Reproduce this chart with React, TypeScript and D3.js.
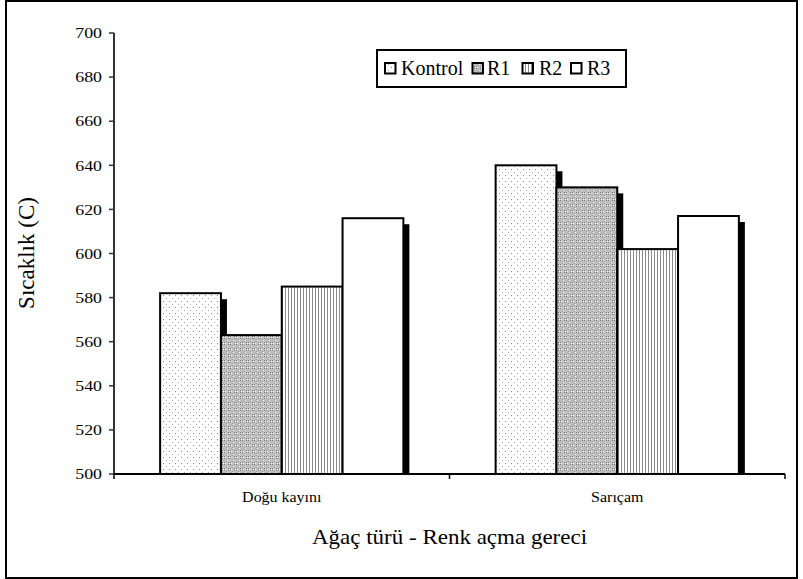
import React from "react";
import * as d3 from "d3";

// Chart data
const categories = ["Doğu kayını", "Sarıçam"];
const seriesNames = ["Kontrol", "R1", "R2", "R3"];
const kontrolValues = [582, 640];
const r1Values = [563, 630];
const r2Values = [585, 602];
const r3Values = [616, 617];
const yTicks = [500, 520, 540, 560, 580, 600, 620, 640, 660, 680, 700];

const seriesValues = [kontrolValues, r1Values, r2Values, r3Values];
const fills = ["url(#patDots)", "url(#patChecker)", "url(#patStripes)", "#ffffff"];

const W = 803;
const H = 579;
const margin = { left: 114, right: 18, top: 33, bottom: 105 };
const textStyle = { fontFamily: "Liberation Serif" };

// Text drawn with a horizontal stretch factor
function WideText(props: {
  x: number;
  y: number;
  sx: number;
  size: number;
  anchor?: "start" | "middle" | "end";
  dy?: string;
  children: React.ReactNode;
}) {
  const { x, y, sx, size, anchor = "start", dy, children } = props;
  return (
    <text
      transform={`translate(${x},${y}) scale(${sx},1)`}
      textAnchor={anchor}
      dy={dy}
      style={textStyle}
      fontSize={size}
      fill="#000"
    >
      {children}
    </text>
  );
}

export default function App() {
  const x0 = d3
    .scaleBand<string>()
    .domain(categories)
    .range([margin.left, 785])
    .paddingInner(0.275)
    .paddingOuter(0.1375);
  const x1 = d3
    .scaleBand<string>()
    .domain(seriesNames)
    .range([0, x0.bandwidth()])
    .padding(0);
  const y = d3.scaleLinear().domain([500, 700]).range([474, 33]);
  const baseY = y(500);

  const bars = categories.flatMap((cat, ci) =>
    seriesNames.map((s, si) => ({
      key: `${cat}-${s}`,
      x: (x0(cat) ?? 0) + (x1(s) ?? 0),
      w: x1.bandwidth(),
      top: y(seriesValues[si][ci]),
      fill: fills[si],
    }))
  );

  const legendItems = [
    { name: "Kontrol", sx: 385, tx: 401 },
    { name: "R1", sx: 472.5, tx: 487 },
    { name: "R2", sx: 522.5, tx: 539 },
    { name: "R3", sx: 571, tx: 587 },
  ];

  return (
    <div style={{ position: "absolute", left: 0, top: 0 }}>
      <svg width={W} height={H} style={{ display: "block", background: "#fff" }}>
        <defs>
          <pattern id="patDots" width="6" height="6" patternUnits="userSpaceOnUse">
            <rect width="6" height="6" fill="#ffffff" />
            <rect x="1" y="1" width="1" height="1" fill="#888" />
            <rect x="4" y="4" width="1" height="1" fill="#aaa" />
          </pattern>
          <pattern id="patChecker" width="6" height="6" patternUnits="userSpaceOnUse">
            <rect width="6" height="6" fill="#c4c4c4" />
            <rect x="0" y="0" width="1" height="1" fill="#777" />
            <rect x="2" y="0" width="1" height="1" fill="#777" />
            <rect x="1" y="1" width="1" height="1" fill="#eee" />
            <rect x="3" y="1" width="1" height="1" fill="#eee" />
            <rect x="0" y="2" width="1" height="1" fill="#777" />
            <rect x="2" y="2" width="1" height="1" fill="#777" />
            <rect x="4" y="3" width="1" height="1" fill="#999" />
            <rect x="5" y="4" width="1" height="1" fill="#eee" />
            <rect x="4" y="5" width="1" height="1" fill="#999" />
            <rect x="1" y="4" width="1" height="1" fill="#aaa" />
            <rect x="3" y="4" width="1" height="1" fill="#aaa" />
          </pattern>
          <pattern id="patStripes" width="3" height="3" patternUnits="userSpaceOnUse">
            <rect width="3" height="3" fill="#ffffff" />
            <rect x="0" y="0" width="1" height="3" fill="#8a8a8a" />
          </pattern>
        </defs>

        {/* outer frame */}
        <rect x={6} y={1} width={791} height={577} fill="#fff" stroke="#000" strokeWidth={2} />

        {/* bar shadows */}
        {bars.map((b) => (
          <rect
            key={`sh-${b.key}`}
            x={b.x + 6}
            y={b.top + 6}
            width={b.w}
            height={baseY - b.top - 6}
            fill="#000"
          />
        ))}

        {/* bars */}
        {bars.map((b) => (
          <rect
            key={b.key}
            x={b.x}
            y={b.top}
            width={b.w}
            height={baseY - b.top}
            fill={b.fill}
            stroke="#000"
            strokeWidth={2}
          />
        ))}

        {/* y axis */}
        <line x1={margin.left} x2={margin.left} y1={y(700)} y2={baseY} stroke="#333" strokeWidth={2} />
        {yTicks.map((t) => (
          <g key={t}>
            <line x1={margin.left - 5} x2={margin.left} y1={y(t)} y2={y(t)} stroke="#333" strokeWidth={1.5} />
            <WideText x={margin.left - 12} y={y(t)} dy="0.35em" sx={1.19} size={15} anchor="end">
              {t}
            </WideText>
          </g>
        ))}

        {/* x axis */}
        <line x1={margin.left} x2={785} y1={baseY} y2={baseY} stroke="#000" strokeWidth={2} />
        {[margin.left, 449.5, 785].map((tx, i) => (
          <line key={i} x1={tx} x2={tx} y1={baseY} y2={baseY + 5} stroke="#000" strokeWidth={1.5} />
        ))}
        {categories.map((c) => (
          <WideText key={c} x={(x0(c) ?? 0) + x0.bandwidth() / 2} y={502} sx={1.14} size={14} anchor="middle">
            {c}
          </WideText>
        ))}

        {/* axis titles */}
        <WideText x={449.5} y={544} sx={1.15} size={20} anchor="middle">
          Ağaç türü - Renk açma gereci
        </WideText>
        <text
          transform={`translate(34, 253) rotate(-90)`}
          textAnchor="middle"
          style={textStyle}
          fontSize={23}
          fill="#000"
        >
          Sıcaklık (C)
        </text>

        {/* legend */}
        <rect x={377} y={50} width={249} height={37} fill="#fff" stroke="#000" strokeWidth={2} />
        {legendItems.map((it, i) => (
          <g key={it.name}>
            <rect x={it.sx} y={63} width={10.5} height={10.5} fill={fills[i]} stroke="#000" strokeWidth={2} />
            <text x={it.tx} y={74.5} style={textStyle} fontSize={20} fill="#000">
              {it.name}
            </text>
          </g>
        ))}
      </svg>
    </div>
  );
}
